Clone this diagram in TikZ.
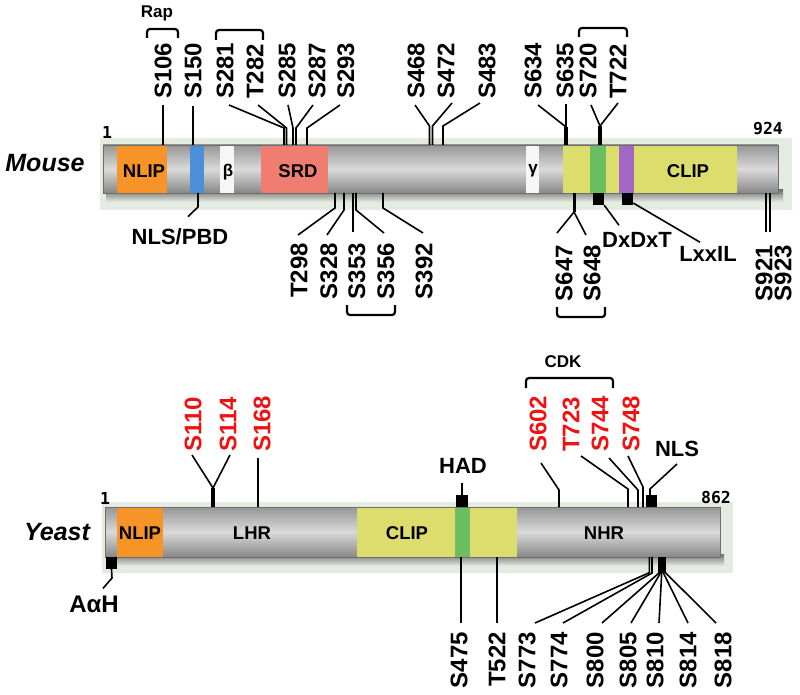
\documentclass[tikz,border=0pt]{standalone}
\usepackage{fontspec}
\setmainfont{Liberation Sans}
\newfontfamily\monof{DejaVu Sans Mono}
\definecolor{haloc}{RGB}{228,236,226}
\definecolor{bartop}{RGB}{150,150,150}
\definecolor{barmid}{RGB}{218,218,218}
\definecolor{barbot}{RGB}{135,135,135}
\definecolor{bardraw}{RGB}{110,110,110}
\definecolor{orangeC}{RGB}{247,148,40}
\definecolor{blueC}{RGB}{74,143,216}
\definecolor{salmonC}{RGB}{240,126,112}
\definecolor{yellowC}{RGB}{221,221,110}
\definecolor{greenC}{RGB}{108,190,98}
\definecolor{purpleC}{RGB}{162,103,194}
\definecolor{whiteC}{RGB}{246,246,246}
\definecolor{sred}{RGB}{240,18,18}
\begin{document}
\begin{tikzpicture}[x=1pt,y=-1pt,
  site/.style={rotate=90,inner sep=0pt,font=\fontsize{24}{24}\selectfont\bfseries},
  lbl/.style={inner sep=0pt,font=\fontsize{22}{22}\selectfont\bfseries},
  small/.style={inner sep=0pt,font=\fontsize{17}{17}\selectfont\bfseries},
  dlab/.style={inner sep=0pt,font=\fontsize{18.5}{18.5}\selectfont\bfseries},
  num/.style={inner sep=0pt,font=\fontsize{16.5}{16.5}\selectfont\monof\bfseries},
  org/.style={inner sep=0pt,font=\fontsize{25}{25}\selectfont\bfseries\itshape},
  ln/.style={line width=1.6pt},
  stub/.style={line width=3.5pt},
  brk/.style={line width=2.2pt,rounded corners=3pt},
  sqn/.style={fill=black,inner sep=0pt,minimum width=11pt,minimum height=12pt},
  barbody/.style={top color=bartop,bottom color=barbot,middle color=barmid},
  red/.style={text=sred}]
\useasboundingbox (0,0) rectangle (800,695);

% ================= MOUSE =================
\fill[haloc] (100,138) rectangle (792,210);
\shade[top color=black!55,bottom color=haloc] (106,190) rectangle (783,202);
\shade[barbody] (103,145) rectangle (778,193);
\fill[orangeC] (117,145) rectangle (167,193);
\fill[blueC] (190,145) rectangle (204,193);
\fill[whiteC] (220,145) rectangle (234,193);
\fill[salmonC] (261,145) rectangle (328,193);
\fill[whiteC] (526,145) rectangle (539,193);
\fill[yellowC] (563,145) rectangle (737,193);
\fill[greenC] (590,145) rectangle (606,193);
\fill[purpleC] (619,145) rectangle (634,193);
\draw[bardraw,line width=0.6pt] (103,145) rectangle (778,193);

\node[org] (mouse) at (45,163) {Mouse};
\node[num] (m1) at (107,132) {1};
\node[num] (m924) at (768,129) {924};
\node[dlab] (mnlip) at (144,171) {NLIP};
\node[small] (mbeta) at (228,172) {β};
\node[dlab] (msrd) at (298,171) {SRD};
\node[small] (mgam) at (533,171) {γ};
\node[dlab] (mclip) at (688,171) {CLIP};

% top site labels
\node[site,anchor=west] (m106) at (163,99) {S106};
\node[site,anchor=west] (m150) at (193,99) {S150};
\node[site,anchor=west] (m281) at (225,99) {S281};
\node[site,anchor=west] (m282) at (255,99) {T282};
\node[site,anchor=west] (m285) at (287,99) {S285};
\node[site,anchor=west] (m287) at (317,99) {S287};
\node[site,anchor=west] (m293) at (346,99) {S293};
\node[site,anchor=west] (m468) at (416,99) {S468};
\node[site,anchor=west] (m472) at (446,99) {S472};
\node[site,anchor=west] (m483) at (487,99) {S483};
\node[site,anchor=west] (m634) at (533,99) {S634};
\node[site,anchor=west] (m635) at (565,99) {S635};
\node[site,anchor=west] (m720) at (588,99) {S720};
\node[site,anchor=west] (m722) at (618,99) {T722};

\node[small] (rap) at (157,13) {Rap};
\draw[brk] (147,38) -- (147,29) -- (178,29) -- (178,38);
\draw[brk] (216,40) -- (216,30) -- (263,30) -- (263,40);
\draw[brk] (579,37) -- (579,28) -- (627,28) -- (627,37);

\draw[ln] ([yshift=-6pt]m106.west) -- (163,145) coordinate (b106);
\draw[ln] ([yshift=-7pt]m150.west) -- (193,145) coordinate (b150);
\draw[ln] ([xshift=4pt,yshift=-6pt]m281.west) -- (284,128) -- (284,145) coordinate (b281);
\draw[ln] ([xshift=3pt,yshift=-6pt]m282.west) -- (286.5,128) -- (286.5,145) coordinate (b282);
\draw[ln] ([xshift=1pt,yshift=-6pt]m285.west) -- (293,128) -- (293,145) coordinate (b285);
\draw[ln] ([xshift=-4pt,yshift=-6pt]m287.west) -- (296,128) -- (296,145) coordinate (b287);
\draw[ln] ([xshift=-6pt,yshift=-6pt]m293.west) -- (307,128) -- (307,145) coordinate (b293);
\draw[ln] ([xshift=-1pt,yshift=-6pt]m468.west) -- (429.5,126) -- (429.5,145) coordinate (b468);
\draw[ln] ([xshift=6pt,yshift=-4pt]m472.west) -- (432.5,126) -- (432.5,145) coordinate (b472);
\draw[ln] ([xshift=-7pt,yshift=-4pt]m483.west) -- (443,126) -- (443,145) coordinate (b483);
\draw[ln] ([xshift=5pt,yshift=-6pt]m634.west) -- (566,127);
\draw[ln] ([xshift=1pt,yshift=-5pt]m635.west) -- (566,127);
\draw[stub] (566,127) -- (566,145) coordinate (b634);
\draw[ln] ([xshift=3pt,yshift=-6pt]m720.west) -- (600,126);
\draw[ln] ([xshift=0pt,yshift=-4pt]m722.west) -- (600,126);
\draw[stub] (600,126) -- (600,145) coordinate (b720);

% bottom mouse
\node[lbl] (nlspbd) at (180,237) {NLS/PBD};
\draw[ln] ([xshift=8pt,yshift=12pt]nlspbd.north) -- (198,207) -- (198,193) coordinate (bnls);

\node[site,anchor=east] (m298) at (299,243) {T298};
\node[site,anchor=east] (m328) at (329,243) {S328};
\node[site,anchor=east] (m353) at (357,243) {S353};
\node[site,anchor=east] (m356) at (386,243) {S356};
\node[site,anchor=east] (m392) at (424,243) {S392};
\draw[ln] ([xshift=-1pt,yshift=8pt]m298.east) -- (335,208) -- (335,193) coordinate (b298);
\draw[ln] ([xshift=-2pt,yshift=8pt]m328.east) -- (344,210) -- (344,193) coordinate (b328);
\draw[ln] ([xshift=-4pt,yshift=11pt]m353.east) -- (353,193) coordinate (b353);
\draw[ln] ([xshift=-2pt,yshift=10pt]m356.east) -- (356,210) -- (356,193) coordinate (b356);
\draw[ln] ([xshift=-1pt,yshift=10pt]m392.east) -- (383,208) -- (383,193) coordinate (b392);
\draw[brk] (347,305) -- (347,315) -- (395,315) -- (395,305);

\node[site,anchor=east] (m647) at (564,245) {S647};
\node[site,anchor=east] (m648) at (592,245) {S648};
\draw[ln] ([xshift=-7pt,yshift=12pt]m647.east) -- (574,212);
\draw[ln] ([xshift=-6pt,yshift=10pt]m648.east) -- (574,212);
\draw[line width=3pt] (574,212) -- (574,193) coordinate (b647);
\draw[brk] (557,307) -- (557,317) -- (605,317) -- (605,307);

\node[sqn] (dxsq) at (598.5,199) {};
\node[lbl] (dxdxt) at (637,240) {DxDxT};
\draw[ln] (dxsq.south east) -- ([xshift=-18pt,yshift=7pt]dxdxt.north);
\node[sqn] (lxsq) at (627.5,199) {};
\node[lbl] (lxxil) at (708,254) {LxxIL};
\draw[ln] ([yshift=-4pt]lxsq.east) -- ([xshift=-8pt,yshift=4pt]lxxil.north);

\node[site,anchor=east] (m921) at (764,245) {S921};
\node[site,anchor=east] (m923) at (783,245) {S923};
\draw[ln] ([xshift=2pt,yshift=13pt]m921.east) -- (766,193) coordinate (b921);
\draw[ln] ([xshift=-13pt,yshift=13pt]m923.east) -- (770,193) coordinate (b923);

% ================= YEAST =================
\fill[haloc] (102,502) rectangle (733,573);
\shade[top color=black!55,bottom color=haloc] (108,554) rectangle (724,566);
\shade[barbody] (105,507) rectangle (720,557);
\fill[orangeC] (117,507) rectangle (163,557);
\fill[yellowC] (357,507) rectangle (517,557);
\fill[greenC] (455,507) rectangle (470,557);
\draw[bardraw,line width=0.6pt] (105,507) rectangle (720,557);

\node[org] (yeast) at (57,532) {Yeast};
\node[num] (y1) at (105,498) {1};
\node[num] (y862) at (716,497) {862};
\node[dlab] (ynlip) at (140,533) {NLIP};
\node[dlab] (ylhr) at (252,533) {LHR};
\node[dlab] (yclip) at (407,533) {CLIP};
\node[dlab] (ynhr) at (604,533) {NHR};

% yeast top
\node[site,red,anchor=west] (y110) at (193,452) {S110};
\node[site,red,anchor=west] (y114) at (228,452) {S114};
\node[site,red,anchor=west] (y168) at (262,452) {S168};
\draw[ln] ([xshift=-1pt,yshift=-3pt]y110.west) -- (213,488);
\draw[ln] ([xshift=2pt,yshift=-3pt]y114.west) -- (213,488);
\draw[stub] (213,488) -- (213,507) coordinate (b110);
\draw[ln] ([xshift=-4pt,yshift=-6pt]y168.west) -- (258,507) coordinate (b168);

\node[small] (cdk) at (563,362) {CDK};
\draw[brk] (526,388) -- (526,378) -- (613,378) -- (613,388);
\node[site,red,anchor=west] (y602) at (538,452) {S602};
\node[site,red,anchor=west] (y723) at (571,452) {T723};
\node[site,red,anchor=west] (y744) at (600,452) {S744};
\node[site,red,anchor=west] (y748) at (631,452) {S748};
\draw[ln] ([xshift=3pt,yshift=-11pt]y602.west) -- (559,490) -- (559,507) coordinate (b602);
\draw[ln] ([xshift=10pt,yshift=-4pt]y723.west) -- (628,489) -- (628,507) coordinate (b723);
\draw[ln] ([xshift=9pt,yshift=-6pt]y744.west) -- (638,490) -- (638,507) coordinate (b744);
\draw[ln] ([xshift=-3pt,yshift=-4pt]y748.west) -- (643,487) -- (643,507) coordinate (b748);

\node[sqn] (nlssq) at (651.5,501) {};
\node[lbl] (nls) at (677,449) {NLS};
\draw[ln] ([xshift=-1.5pt]nlssq.north) -- (650,489) -- ([yshift=-7pt]nls.south);

\node[sqn,minimum width=12pt] (hadsq) at (462,501) {};
\node[lbl] (had) at (463,466) {HAD};
\draw[ln] (hadsq.north) -- ([xshift=-1pt,yshift=-9pt]had.south);

% yeast bottom
\node[sqn] (aahsq) at (111.5,563) {};
\node[lbl,font=\fontsize{24}{24}\selectfont\bfseries] (aah) at (94,604) {AαH};
\draw[ln] (aahsq.south) -- (112,578) -- ([xshift=9pt,yshift=7pt]aah.north);

\node[site,anchor=east] (y475) at (459,632) {S475};
\node[site,anchor=east] (y522) at (497,632) {T522};
\node[site,anchor=east] (y773) at (527,632) {S773};
\node[site,anchor=east] (y774) at (559,632) {S774};
\node[site,anchor=east] (y800) at (595,632) {S800};
\node[site,anchor=east] (y805) at (628,632) {S805};
\node[site,anchor=east] (y810) at (655,632) {S810};
\node[site,anchor=east] (y814) at (688,632) {S814};
\node[site,anchor=east] (y818) at (723,632) {S818};
\draw[ln] ([xshift=2pt,yshift=9pt]y475.east) -- (461,557) coordinate (b475);
\draw[ln] ([yshift=9pt]y522.east) -- (497,557) coordinate (b522);
\fill (658,557) rectangle (666,572.5);
\draw[ln] ([xshift=8pt,yshift=9pt]y773.east) -- (649.3,572.7) -- (649.3,557) coordinate (b773);
\draw[ln] ([xshift=4pt,yshift=9pt]y774.east) -- (652,573) -- (652,557) coordinate (b774);
\draw[ln] ([xshift=7pt,yshift=9pt]y800.east) -- (659.3,572.7) coordinate (b800);
\draw[ln] ([xshift=3pt,yshift=9pt]y805.east) -- (660.7,572.7) coordinate (b805);
\draw[ln] ([xshift=4pt,yshift=9pt]y810.east) -- (661.7,572.7) coordinate (b810);
\draw[ln] ([yshift=9pt]y814.east) -- (663.3,572.7) coordinate (b814);
\draw[ln] ([xshift=-7pt,yshift=9pt]y818.east) -- (665.5,572.7) coordinate (b818);
\end{tikzpicture}
\end{document}
